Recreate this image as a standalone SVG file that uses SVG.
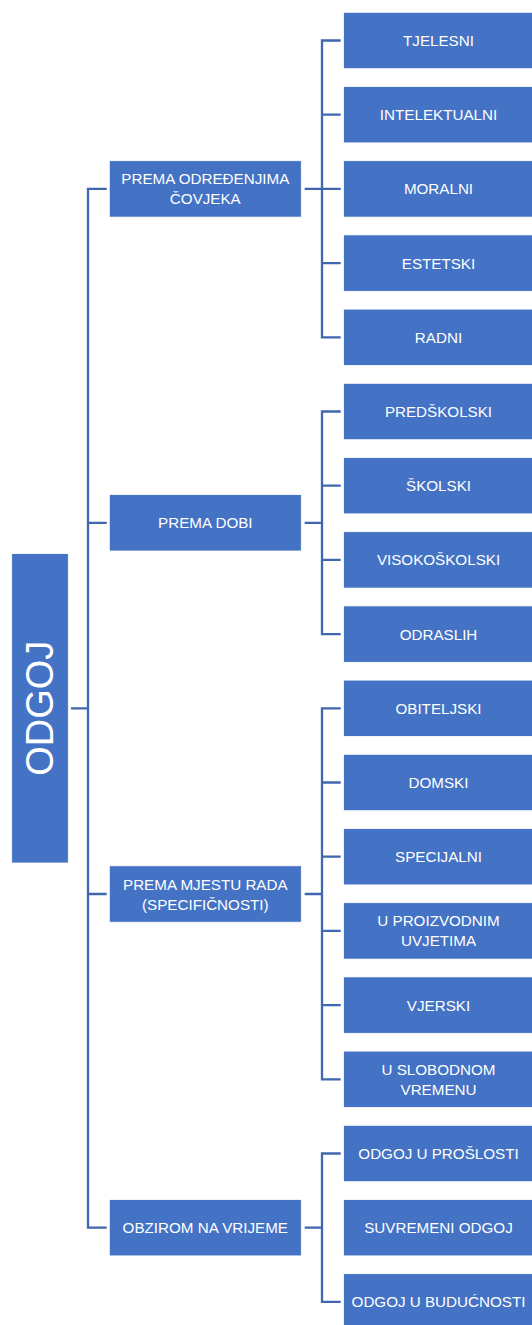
<svg xmlns="http://www.w3.org/2000/svg" width="532" height="1325" viewBox="0 0 532 1325">
<style>
.box{fill:#4472C4;stroke:#ffffff;stroke-width:0.8}
.t{fill:#ffffff;font-family:"Liberation Sans",Arial,sans-serif;font-size:15.2px;text-anchor:middle}
.root{fill:#ffffff;font-family:"Liberation Sans",Arial,sans-serif;font-size:38px;text-anchor:middle}
.c{fill:none;stroke:#3F67AF;stroke-width:2.3}
</style>
<rect width="532" height="1325" fill="#ffffff"/>
<g id="connectors">
<path class="c" d="M71 708.3H88M106.7 188.9H88V1227.7H106.7M88 522.8H106.7M88 894H106.7"/>
<path class="c" d="M304.7 188.9H322M340.7 40.5H322V337.3H340.7M322 114.7H340.7M322 188.9H340.7M322 263.1H340.7"/>
<path class="c" d="M304.7 522.8H322M340.7 411.5H322V634.1H340.7M322 485.7H340.7M322 559.9H340.7"/>
<path class="c" d="M304.7 894H322M340.7 708.3H322V1079.3H340.7M322 782.5H340.7M322 856.7H340.7M322 930.9H340.7M322 1005.1H340.7"/>
<path class="c" d="M304.7 1227.7H322M340.7 1153.5H322V1301.9H340.7"/>
</g>
<g id="odgoj"><rect class="box" x="11.7" y="553.6" width="56.6" height="309.4"/><text class="root" transform="translate(52.5 708.3) rotate(-90)">ODGOJ</text></g>
<g id="prema-odredjenjima"><rect class="box" x="109.3" y="160.7" width="192" height="56.4"/><text class="t" x="205.3" y="184.4">PREMA ODREĐENJIMA</text><text class="t" x="205.3" y="204.4">ČOVJEKA</text></g>
<g id="prema-dobi"><rect class="box" x="109.3" y="494.6" width="192" height="56.4"/><text class="t" x="205.3" y="528.3">PREMA DOBI</text></g>
<g id="prema-mjestu-rada"><rect class="box" x="109.3" y="865.8" width="192" height="56.4"/><text class="t" x="205.3" y="889.5">PREMA MJESTU RADA</text><text class="t" x="205.3" y="909.5">(SPECIFIČNOSTI)</text></g>
<g id="obzirom-na-vrijeme"><rect class="box" x="109.3" y="1199.5" width="192" height="56.4"/><text class="t" x="205.3" y="1233.2">OBZIROM NA VRIJEME</text></g>
<g id="tjelesni"><rect class="box" x="343.5" y="12.3" width="190" height="56.4"/><text class="t" x="438.5" y="46">TJELESNI</text></g>
<g id="intelektualni"><rect class="box" x="343.5" y="86.5" width="190" height="56.4"/><text class="t" x="438.5" y="120.2">INTELEKTUALNI</text></g>
<g id="moralni"><rect class="box" x="343.5" y="160.7" width="190" height="56.4"/><text class="t" x="438.5" y="194.4">MORALNI</text></g>
<g id="estetski"><rect class="box" x="343.5" y="234.9" width="190" height="56.4"/><text class="t" x="438.5" y="268.6">ESTETSKI</text></g>
<g id="radni"><rect class="box" x="343.5" y="309.1" width="190" height="56.4"/><text class="t" x="438.5" y="342.8">RADNI</text></g>
<g id="predskolski"><rect class="box" x="343.5" y="383.3" width="190" height="56.4"/><text class="t" x="438.5" y="417">PREDŠKOLSKI</text></g>
<g id="skolski"><rect class="box" x="343.5" y="457.5" width="190" height="56.4"/><text class="t" x="438.5" y="491.2">ŠKOLSKI</text></g>
<g id="visokoskolski"><rect class="box" x="343.5" y="531.7" width="190" height="56.4"/><text class="t" x="438.5" y="565.4">VISOKOŠKOLSKI</text></g>
<g id="odraslih"><rect class="box" x="343.5" y="605.9" width="190" height="56.4"/><text class="t" x="438.5" y="639.6">ODRASLIH</text></g>
<g id="obiteljski"><rect class="box" x="343.5" y="680.1" width="190" height="56.4"/><text class="t" x="438.5" y="713.8">OBITELJSKI</text></g>
<g id="domski"><rect class="box" x="343.5" y="754.3" width="190" height="56.4"/><text class="t" x="438.5" y="788">DOMSKI</text></g>
<g id="specijalni"><rect class="box" x="343.5" y="828.5" width="190" height="56.4"/><text class="t" x="438.5" y="862.2">SPECIJALNI</text></g>
<g id="u-proizvodnim-uvjetima"><rect class="box" x="343.5" y="902.7" width="190" height="56.4"/><text class="t" x="438.5" y="926.4">U PROIZVODNIM</text><text class="t" x="438.5" y="946.4">UVJETIMA</text></g>
<g id="vjerski"><rect class="box" x="343.5" y="976.9" width="190" height="56.4"/><text class="t" x="438.5" y="1010.6">VJERSKI</text></g>
<g id="u-slobodnom-vremenu"><rect class="box" x="343.5" y="1051.1" width="190" height="56.4"/><text class="t" x="438.5" y="1074.8">U SLOBODNOM</text><text class="t" x="438.5" y="1094.8">VREMENU</text></g>
<g id="odgoj-u-proslosti"><rect class="box" x="343.5" y="1125.3" width="190" height="56.4"/><text class="t" x="438.5" y="1159">ODGOJ U PROŠLOSTI</text></g>
<g id="suvremeni-odgoj"><rect class="box" x="343.5" y="1199.5" width="190" height="56.4"/><text class="t" x="438.5" y="1233.2">SUVREMENI ODGOJ</text></g>
<g id="odgoj-u-buducnosti"><rect class="box" x="343.5" y="1273.7" width="190" height="56.4"/><text class="t" x="438.5" y="1307.4">ODGOJ U BUDUĆNOSTI</text></g>
</svg>
